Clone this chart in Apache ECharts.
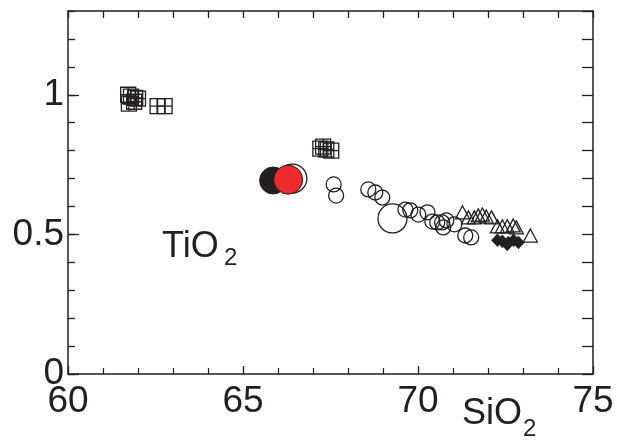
<!DOCTYPE html>
<html>
<head>
<meta charset="utf-8">
<script src="https://cdn.jsdelivr.net/npm/echarts@6/dist/echarts.min.js"></script>
<style>html,body{margin:0;padding:0;background:#fff}#c{width:617px;height:441px}</style>
</head>
<body>
<div id="c"></div>
<script>
// ---- data (SiO2, TiO2) ----
var xTickLabels = ['60', '65', '70', '75'];
var yTickLabels = ['0', '0.5', '1'];
var squares = [[61.72, 1.000], [61.80, 0.993], [61.92, 0.989], [62.00, 0.986], [61.74, 0.968], [61.89, 0.975],
  [62.56, 0.959], [62.76, 0.959],
  [67.21, 0.807], [67.29, 0.814], [67.38, 0.804], [67.52, 0.800]];
var circles = [[67.59, 0.679], [67.66, 0.639], [68.58, 0.661], [68.78, 0.650], [68.98, 0.632],
  [69.64, 0.589], [69.78, 0.586], [70.01, 0.571], [70.27, 0.579], [70.41, 0.546], [70.55, 0.543],
  [70.69, 0.543], [70.72, 0.525], [70.81, 0.550], [71.04, 0.536], [71.35, 0.496], [71.52, 0.489]];
var circlesLarge = [[69.27, 0.557], [66.41, 0.700]];
var triangles = [[71.27, 0.579], [71.44, 0.561], [71.61, 0.561], [71.72, 0.568], [71.84, 0.571], [71.95, 0.564],
  [72.10, 0.561], [72.27, 0.529], [72.41, 0.529], [72.55, 0.529], [72.72, 0.532], [72.81, 0.525], [73.21, 0.496]];
var diamonds = [[72.27, 0.479], [72.41, 0.475], [72.58, 0.471], [72.73, 0.479], [72.87, 0.471], [72.55, 0.464]];
var blackDot = [[65.86, 0.693]];
var redDot = [[66.29, 0.696]];

var ink = '#231f20';
var font = "'Liberation Sans', Arial, Helvetica, sans-serif";
var chart = echarts.init(document.getElementById('c'), null, {renderer: 'canvas'});
var gridBox = {left: 68, right: 24, top: 11, bottom: 67};
var open = {color: 'rgba(0,0,0,0)', borderColor: ink, borderWidth: 1.3, opacity: 1};

var option = {
  animation: false,
  backgroundColor: '#fff',
  grid: gridBox,
  xAxis: [
    {type: 'value', position: 'bottom', min: 60, max: 75, interval: 5,
      axisLine: {onZero: false, lineStyle: {color: ink, width: 1.5}},
      axisTick: {show: true, inside: true, length: 8, lineStyle: {color: ink, width: 1.3}},
      minorTick: {show: true, splitNumber: 5, length: 6, lineStyle: {color: ink, width: 1.2}},
      splitLine: {show: false},
      axisLabel: {margin: 9, fontSize: 37, color: ink, fontFamily: font,
        formatter: function (v) { var s = String(Math.round(v)); return xTickLabels.indexOf(s) >= 0 ? s : ''; }}},
    {type: 'value', position: 'top', min: 60, max: 75, interval: 1,
      axisLine: {show: true, onZero: false, lineStyle: {color: ink, width: 1.5}},
      axisTick: {show: true, inside: true, length: 7, lineStyle: {color: ink, width: 1.3}},
      axisLabel: {show: false}, splitLine: {show: false}}
  ],
  yAxis: [
    {type: 'value', position: 'left', min: 0, max: 1.3, interval: 0.5,
      axisLine: {show: true, onZero: false, lineStyle: {color: ink, width: 1.5}},
      axisTick: {show: true, inside: true, length: 11, lineStyle: {color: ink, width: 1.3}},
      splitLine: {show: false},
      axisLabel: {margin: 4, fontSize: 37, color: ink, fontFamily: font, showMaxLabel: false,
        formatter: function (v) { var s = String(Math.round(v * 10) / 10); return yTickLabels.indexOf(s) >= 0 ? s : ''; }}},
    {type: 'value', position: 'left', min: 0, max: 1.3, interval: 0.1,
      axisLine: {show: false, onZero: false},
      axisTick: {show: true, inside: true, length: 7, lineStyle: {color: ink, width: 1.3}},
      axisLabel: {show: false}, splitLine: {show: false}},
    {type: 'value', position: 'right', min: 0, max: 1.3, interval: 0.1,
      axisLine: {show: true, onZero: false, lineStyle: {color: ink, width: 1.5}},
      axisTick: {show: true, inside: true, length: 11, lineStyle: {color: ink, width: 1.3}},
      axisLabel: {show: false}, splitLine: {show: false}}
  ],
  series: [
    {type: 'scatter', data: squares, symbol: 'path://M0,0L10,0L10,10L0,10Z M5,0L5,10 M0,5L10,5', symbolSize: 15,
      itemStyle: open},
    {type: 'scatter', data: circles, symbol: 'circle', symbolSize: 15, itemStyle: open},
    {type: 'scatter', data: circlesLarge, symbol: 'circle', symbolSize: 29, itemStyle: open},
    {type: 'scatter', data: triangles, symbol: 'triangle', symbolSize: [14, 13], itemStyle: open},
    {type: 'scatter', data: diamonds, symbol: 'diamond', symbolSize: [12, 13],
      itemStyle: {color: ink, borderColor: ink, borderWidth: 0.5, opacity: 1}},
    {type: 'scatter', data: blackDot, symbol: 'circle', symbolSize: 27,
      itemStyle: {color: ink, borderColor: ink, borderWidth: 1, opacity: 1}},
    {type: 'scatter', data: redDot, symbol: 'circle', symbolSize: 29,
      itemStyle: {color: '#ec2a2b', borderColor: ink, borderWidth: 1, opacity: 1}}
  ],
  graphic: [
    {type: 'text', left: 162, top: 229, style: {text: 'TiO', fontSize: 36, fontFamily: font, fill: ink}},
    {type: 'text', left: 224, top: 246, style: {text: '2', fontSize: 24, fontFamily: font, fill: ink}},
    {type: 'text', left: 462, top: 396, style: {text: 'SiO', fontSize: 36, fontFamily: font, fill: ink}},
    {type: 'text', left: 523, top: 417, style: {text: '2', fontSize: 24, fontFamily: font, fill: ink}}
  ]
};
chart.setOption(option);
</script>
</body>
</html>
